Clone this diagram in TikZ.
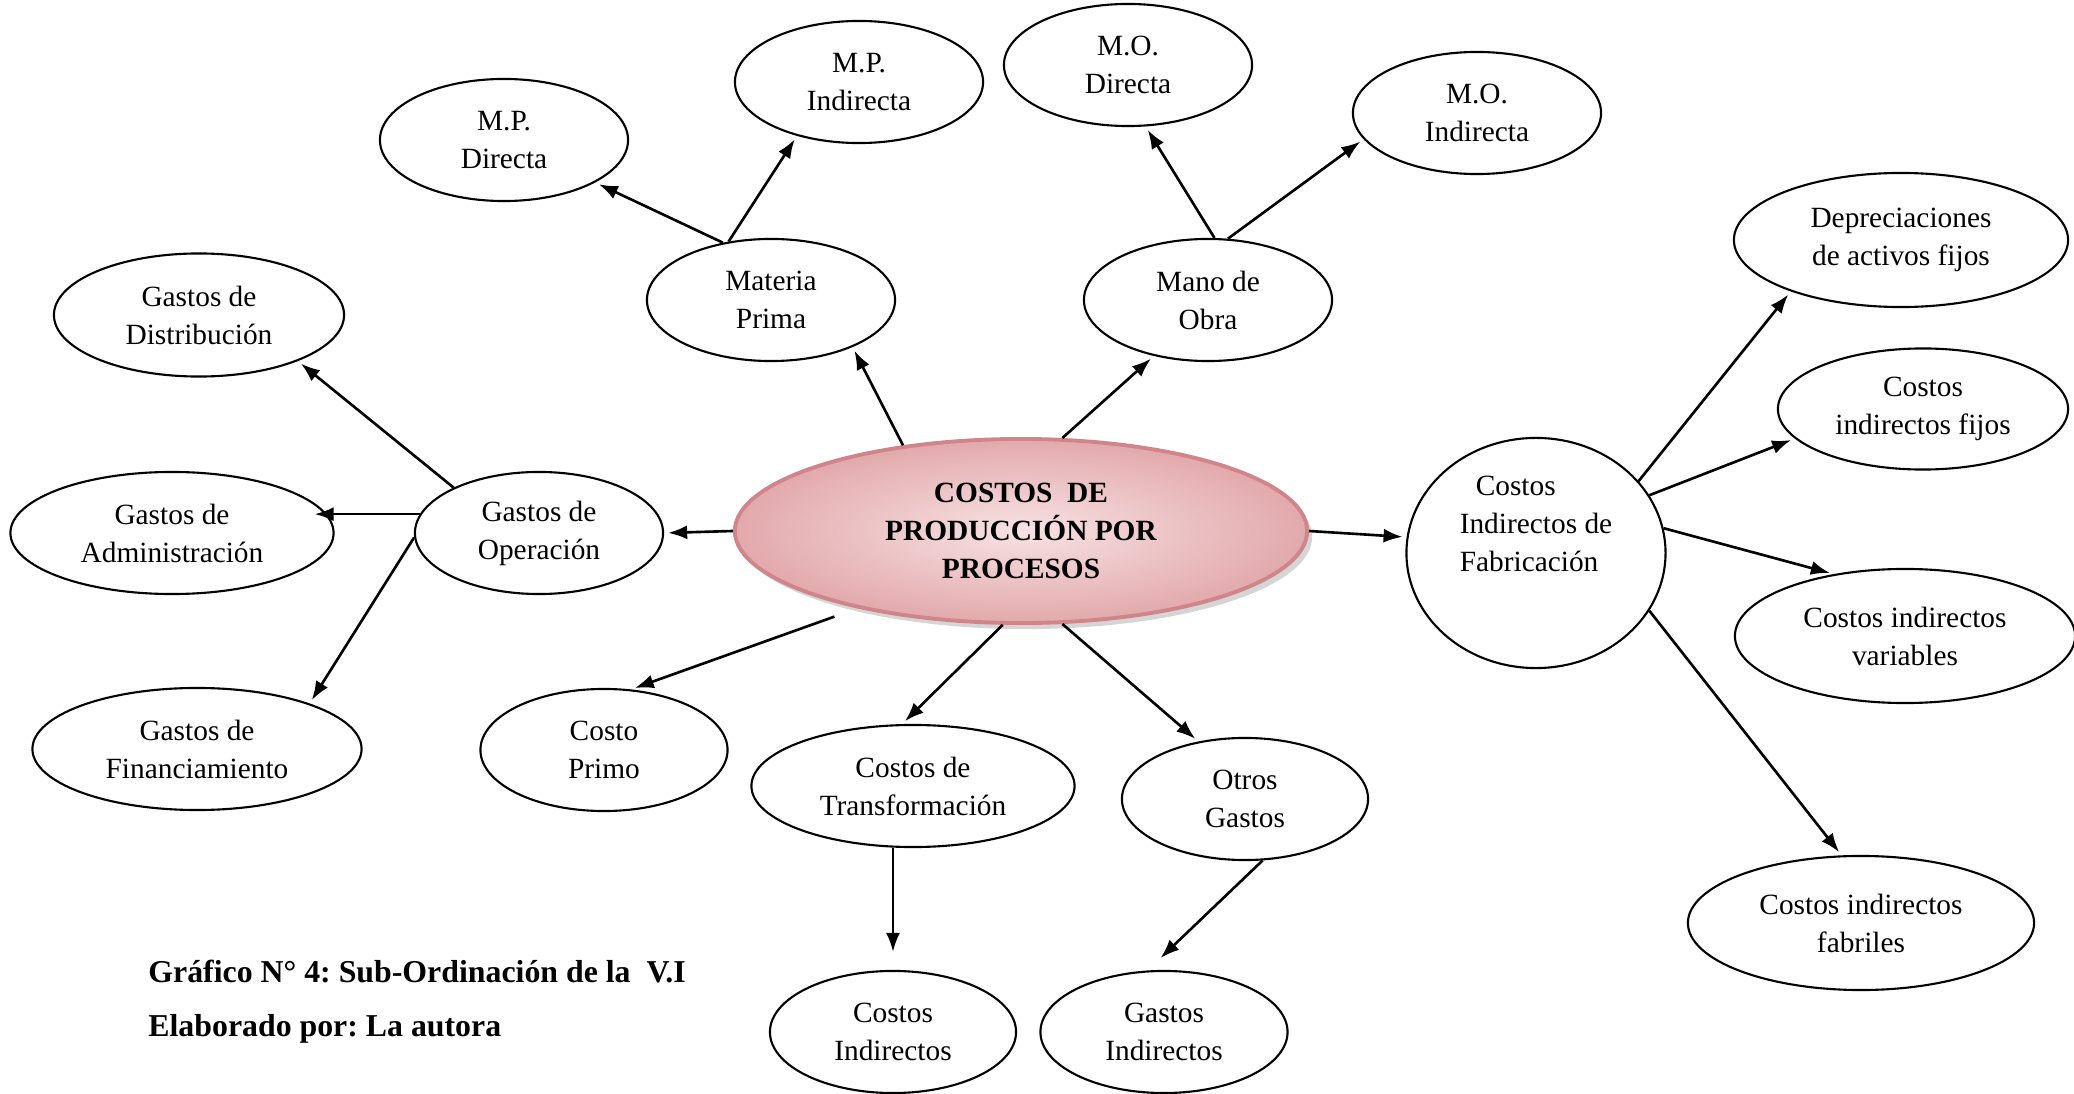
\documentclass[tikz,border=0pt]{standalone}
\usepackage{fontspec}
\setmainfont{Liberation Serif}
\usetikzlibrary{shapes.geometric,arrows.meta,shadows}
\definecolor{rosa}{HTML}{F7E2E3}
\definecolor{rosaosc}{HTML}{E2A9AC}
\definecolor{rosaborde}{HTML}{CF8589}
\frenchspacing

\begin{document}
\begin{tikzpicture}[x=0.01cm,y=-0.01cm,
  bubble/.style={ellipse,draw,line width=0.6pt,minimum width=2.48cm,minimum height=1.22cm,
    inner sep=0pt,align=center,font=\fontsize{8.35}{10.8}\selectfont},
  link/.style={-{Latex[length=0.19cm,width=0.14cm]},line width=0.75pt,shorten >=0.04cm}]
  \useasboundingbox (0,0) rectangle (2074,1094);
  % centre
  \node[bubble,draw=rosaborde,line width=1.1pt,shade,inner color=rosa,outer color=rosaosc,
        drop shadow={shadow xshift=0.05cm,shadow yshift=-0.06cm,fill=gray!55,opacity=0.6},
        minimum width=5.72cm,minimum height=1.84cm,font=\bfseries\fontsize{8.35}{10.8}\selectfont]
    (cen) at (1021,531) {COSTOS\ \ DE\\PRODUCCIÓN POR\\PROCESOS};
  % branches
  \foreach \nm/\x/\y/\w/\h/\txt in {
    mp/771/300/2.48/1.22/{Materia\\Prima},
    mpd/504/140/2.48/1.22/{M.P.\\Directa},
    mpi/859/82/2.48/1.22/{M.P.\\Indirecta},
    mo/1208/300/2.48/1.22/{Mano de\\Obra},
    mod/1128/65/2.48/1.22/{M.O.\\Directa},
    moi/1477/113/2.48/1.22/{M.O.\\Indirecta},
    gop/539/533/2.48/1.22/{Gastos de\\Operación},
    gdis/199/315/2.90/1.23/{Gastos de\\Distribución},
    gadm/172/533/3.23/1.22/{Gastos de\\Administración},
    gfin/197/749/3.29/1.22/{Gastos de\\Financiamiento},
    cprim/604/750/2.47/1.22/{Costo\\Primo},
    ctrans/913/786/3.23/1.22/{Costos de\\Transformación},
    otros/1245/799/2.46/1.22/{Otros\\Gastos},
    cind/893/1032/2.46/1.22/{Costos\\Indirectos},
    gind/1164/1032/2.47/1.22/{Gastos\\Indirectos},
    dep/1901/240/3.34/1.34/{Depreciaciones\\de activos fijos},
    cfij/1923/409/2.90/1.21/{Costos\\indirectos fijos},
    cvar/1905/636/3.40/1.34/{Costos indirectos\\variables},
    cfab/1861/923/3.46/1.34/{Costos indirectos\\fabriles}}
    \node[bubble,minimum width=\w cm,minimum height=\h cm] (\nm) at (\x,\y) {\txt};
  % CIF circle, text sits high
  \node[bubble,minimum width=2.59cm,minimum height=2.30cm,
        label={[font=\fontsize{8.35}{10.8}\selectfont,align=left,yshift=0.29cm]center:\hspace*{0.16cm}Costos\\Indirectos de\\Fabricación}]
    (cif) at (1536,553) {};
  % arrows
  \foreach \a/\b in {cen.144/mp.330, mp.130/mpd.335, mp.126/mpi.221, cen.66/mo.226,
      mo.84/mod.286, mo.72/moi.193, cen.180/gop.0, gop.152/gdis.335,
      gop.182/gfin.22, cen.259/ctrans.100, cen.294/otros.129,
      cen.0/cif.173, cif.35/dep.205, cif.27/cfij.193, cif.11/cvar.139, cif.333/cfab.106}
    \draw[link] (\a) -- (\b);
  \draw[link,shorten >=-0.1cm] (gop.171) -- (gop.171 -| gadm.8);
  \draw[link] ([yshift=-0.14cm]cen.201) -- (cprim.66);
  \draw[link,shorten >=0.18cm] (ctrans.south -| cind.north) -- (cind.north);
  \draw[link,shorten >=0.18cm] (otros.286) -- (gind.105);
  % caption
  \node[anchor=base west,font=\bfseries\fontsize{9.05}{11}\selectfont] (cap1) at (136,982)
    {Gráfico N° 4: Sub-Ordinación de la\ \ V.I};
  \node[anchor=base west,font=\bfseries\fontsize{9.05}{11}\selectfont] (cap2) at (136,1037)
    {Elaborado por: La autora};
\end{tikzpicture}
\end{document}
